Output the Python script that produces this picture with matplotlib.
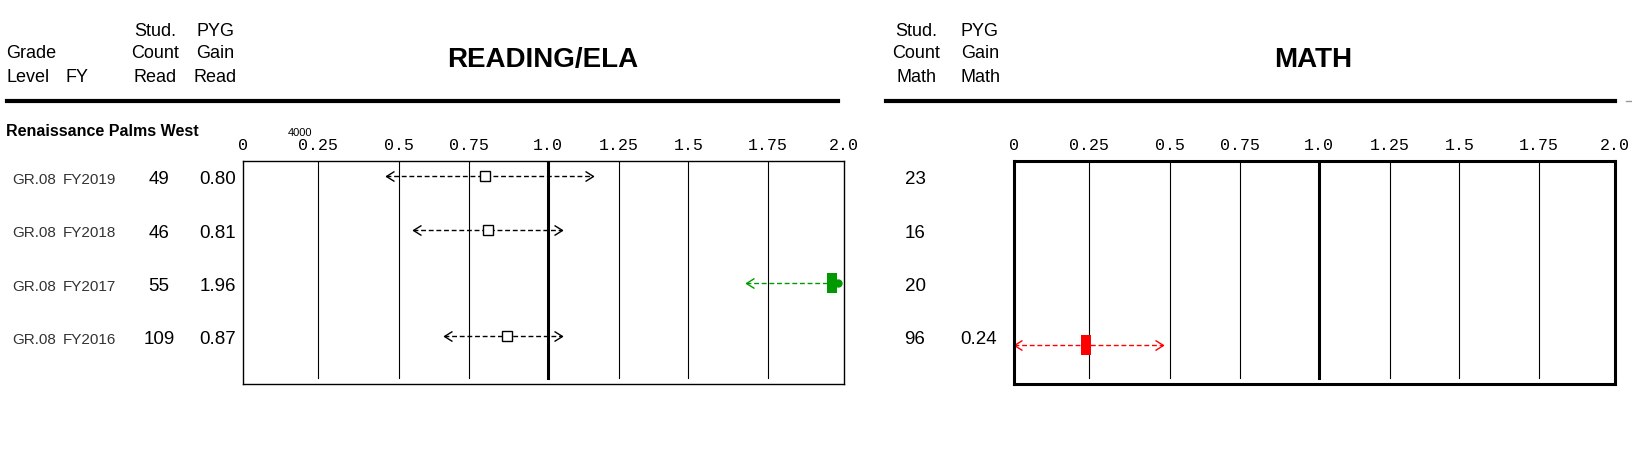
import numpy as np
import matplotlib
matplotlib.use('Agg')
import matplotlib.pyplot as plt
from matplotlib.path import Path
from matplotlib.transforms import blended_transform_factory

plt.rcParams['font.family'] = ['Liberation Sans Narrow', 'Liberation Sans', 'DejaVu Sans']

W, H = 1632, 472

# the report's x axis is not evenly spaced, so ticks map to these fractions
scale_ticks = [0, 0.25, 0.5, 0.75, 1.0, 1.25, 1.5, 1.75, 2.0]
scale_pos = [0, 0.124, 0.259, 0.376, 0.507, 0.625, 0.741, 0.874, 1.0]
tick_labels = ['0', '0.25', '0.5', '0.75', '1.0', '1.25', '1.5', '1.75', '2.0']

school = 'Renaissance Palms West'
grade = ['GR.08', 'GR.08', 'GR.08', 'GR.08']
fy = ['FY2019', 'FY2018', 'FY2017', 'FY2016']

read_count = [49, 46, 55, 109]
read_gain = [0.80, 0.81, 1.96, 0.87]
read_lo = [0.46, 0.55, 1.68, 0.66]
read_hi = [1.16, 1.05, 1.98, 1.05]
read_flag = ['', '', 'above', '']

math_count = [23, 16, 20, 96]
math_gain = [None, None, None, 0.24]
math_lo = [None, None, None, 0.0]
math_hi = [None, None, None, 0.48]
math_flag = ['', '', '', 'below']

colors = {'': 'black', 'above': '#009a00', 'below': '#ff0000'}


def fx(px):
    return px / W


def fy_(py):
    return 1 - py / H


def fwd(x):
    return np.interp(x, scale_ticks, scale_pos)


def inv(y):
    return np.interp(y, scale_pos, scale_ticks)


chev_left = Path([(1.6, 1), (0, 0), (1.6, -1)], [Path.MOVETO, Path.LINETO, Path.LINETO])
chev_right = Path([(-1.6, 1), (0, 0), (-1.6, -1)], [Path.MOVETO, Path.LINETO, Path.LINETO])
bar_mark = Path([(-0.5, -1), (0.5, -1), (0.5, 1), (-0.5, 1), (-0.5, -1)], closed=True)


def make_panel(fig, left_px, box_lw):
    ax = fig.add_axes([fx(left_px), fy_(384), 601 / W, 223 / H])
    ax.set_xscale('function', functions=(fwd, inv))
    ax.set_xlim(0, 2)
    ax.set_ylim(3.825, -0.356)
    ax.set_yticks([])
    ax.set_xticks(scale_ticks, tick_labels)
    ax.tick_params(axis='x', top=True, labeltop=True, bottom=False, labelbottom=False,
                   length=0, pad=6, labelsize=12, labelfontfamily='Liberation Mono')
    for s in ax.spines.values():
        s.set_linewidth(box_lw)
    for t in scale_ticks[1:-1]:
        ax.axvline(t, ymin=0.027, ymax=1, color='black', lw=2.2 if t == 1.0 else 0.8)
    return ax


def draw_row(ax, y, lo, gain, hi, flag):
    col = colors[flag]
    ax.plot([lo, hi], [y, y], color=col, lw=1, ls=(0, (3.5, 2)))
    ax.plot(lo, y, marker=chev_left, ms=11.5, color=col, mfc='none', mew=1, clip_on=False)
    if hi >= 1.95:
        ax.plot(hi, y, 'o', ms=5, color=col, clip_on=False)
    else:
        ax.plot(hi, y, marker=chev_right, ms=11.5, color=col, mfc='none', mew=1, clip_on=False)
    if flag:
        ax.plot(gain, y, marker=bar_mark, ms=14.4, color=col, mew=0, zorder=5)
    else:
        ax.plot(gain, y, 's', ms=6.5, mfc='white', mec='black', mew=1, zorder=5)


fig = plt.figure(figsize=(W / 100, H / 100), dpi=100)

ax_r = make_panel(fig, 243, 1.0)
ax_m = make_panel(fig, 1014, 2.2)

# header
hdr = dict(fontsize=13, va='center')
fig.text(fx(6), fy_(53), 'Grade', ha='left', **hdr)
fig.text(fx(6), fy_(77), 'Level', ha='left', **hdr)
fig.text(fx(77), fy_(77), 'FY', ha='center', **hdr)
for txt, py in zip(['Stud.', 'Count', 'Read'], [31, 53, 77]):
    fig.text(fx(155), fy_(py), txt, ha='center', **hdr)
for txt, py in zip(['PYG', 'Gain', 'Read'], [31, 53, 77]):
    fig.text(fx(215), fy_(py), txt, ha='center', **hdr)
for txt, py in zip(['Stud.', 'Count', 'Math'], [31, 53, 77]):
    fig.text(fx(916), fy_(py), txt, ha='center', **hdr)
for txt, py in zip(['PYG', 'Gain', 'Math'], [31, 53, 77]):
    fig.text(fx(980), fy_(py), txt, ha='center', **hdr)

fig.text(fx(543), fy_(60), 'READING/ELA', ha='center', va='center', fontsize=20, fontweight='bold')
fig.text(fx(1313), fy_(60), 'MATH', ha='center', va='center', fontsize=20, fontweight='bold')

fig.add_artist(plt.Line2D([fx(7), fx(838)], [fy_(101), fy_(101)], color='black', lw=3))
fig.add_artist(plt.Line2D([fx(886), fx(1615)], [fy_(101), fy_(101)], color='black', lw=3))
fig.add_artist(plt.Line2D([fx(1626), fx(1632)], [fy_(101), fy_(101)], color='#999999', lw=1))

fig.text(fx(6), fy_(132), school, ha='left', va='center', fontsize=11.5, fontweight='bold')
fig.text(fx(300), fy_(133), '4000', ha='center', va='center', fontsize=8)

tr_r = blended_transform_factory(fig.transFigure, ax_r.transData)
tr_m = blended_transform_factory(fig.transFigure, ax_m.transData)

for i in range(len(fy)):
    ax_r.text(fx(12), i, grade[i], transform=tr_r, ha='left', va='center', fontsize=11, color='#333333')
    ax_r.text(fx(63), i, fy[i], transform=tr_r, ha='left', va='center', fontsize=11, color='#333333')
    ax_r.text(fx(159), i, str(read_count[i]), transform=tr_r, ha='center', va='center', fontsize=13.5)
    ax_r.text(fx(218), i, f'{read_gain[i]:.2f}', transform=tr_r, ha='center', va='center', fontsize=13.5)
    draw_row(ax_r, i - 0.07, read_lo[i], read_gain[i], read_hi[i], read_flag[i])

    ax_m.text(fx(915), i, str(math_count[i]), transform=tr_m, ha='center', va='center', fontsize=13.5)
    if math_gain[i] is not None:
        ax_m.text(fx(979), i, f'{math_gain[i]:.2f}', transform=tr_m, ha='center', va='center', fontsize=13.5)
        draw_row(ax_m, i + 0.09, math_lo[i], math_gain[i], math_hi[i], math_flag[i])

fig.savefig('out.png', dpi=100)
